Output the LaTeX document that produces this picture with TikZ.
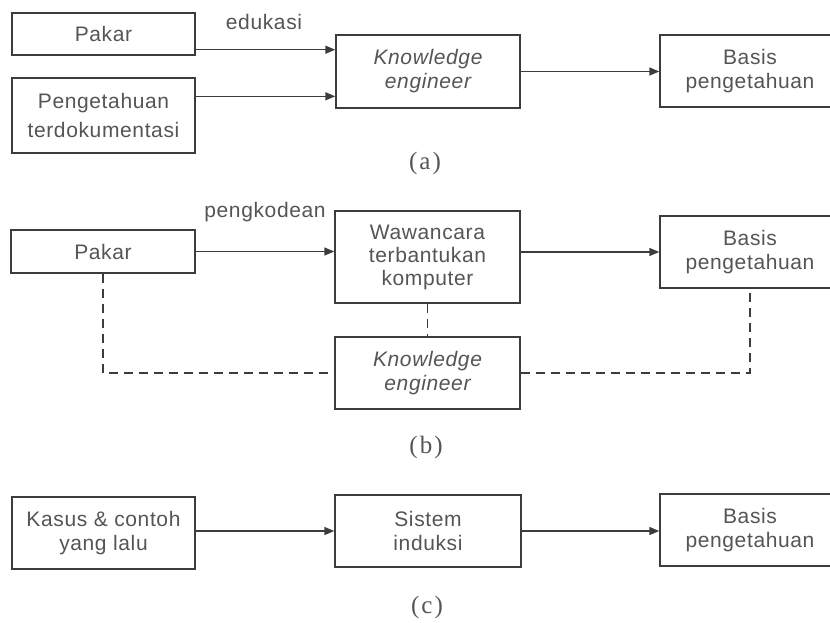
\documentclass[tikz,border=0pt]{standalone}
\usepackage{fontspec}
\usetikzlibrary{arrows.meta,calc}
\newfontfamily\boxfont[LetterSpace=3]{Liberation Sans}
\newfontfamily\capfont{Liberation Serif}
\definecolor{inkline}{HTML}{3C3C3C}
\definecolor{inktext}{HTML}{555555}
\tikzset{
  stagebox/.style={draw=inkline, line width=1.4pt, align=center, inner sep=0pt,
    font=\boxfont\fontsize{21}{24}\selectfont, text=inktext},
  flowarrow/.style={draw=inkline, line width=1.4pt, -{Triangle[length=10pt,width=8pt]}},
  dashlink/.style={draw=inkline, line width=1.2pt, dash pattern=on 9pt off 6pt},
  edgelabel/.style={font=\boxfont\fontsize{21}{24}\selectfont, text=inktext, inner sep=0pt},
  caption/.style={font=\capfont\fontsize{25}{28}\selectfont, text=inktext, inner sep=0pt}
}
\begin{document}
\begin{tikzpicture}[x=1pt,y=-1pt]
\useasboundingbox (0,0) rectangle (830,622);
\fill[white] (0,0) rectangle (830,622);
\clip (0,0) rectangle (830,622);

% ---------- (a) ----------
\node[stagebox, minimum width=183pt, minimum height=42pt] (pakarA) at (103.5,34) {Pakar};
\node[stagebox, minimum width=183pt, minimum height=75pt, font=\boxfont\fontsize{21}{29}\selectfont] (dokA) at (103.5,115.5) {Pengetahuan\\terdokumentasi};
\node[stagebox, minimum width=184pt, minimum height=73pt] (keA) at (428,71.5) {\itshape Knowledge\\\itshape engineer};
\node[stagebox, minimum width=180pt, minimum height=72pt] (basisA) at (750,71) {Basis\\pengetahuan};
\coordinate (pakarOut) at ([yshift=6pt]pakarA.south east);
\coordinate (dokOut) at ([yshift=-19pt]dokA.north east);
\draw[flowarrow] (pakarOut) -- (pakarOut -| keA.west);
\draw[flowarrow] (dokOut) -- (dokOut -| keA.west);
\draw[flowarrow] (keA.east) -- (keA.east -| basisA.west);
\node[edgelabel] (edukasi) at (264,22) {edukasi};
\node[caption] (capA) at (425,163) {(\kern2pt a\kern2pt)};

% ---------- (b) ----------
\node[stagebox, minimum width=184pt, minimum height=43pt] (pakarB) at (103,251.5) {Pakar};
\node[stagebox, minimum width=185pt, minimum height=92pt, font=\boxfont\fontsize{21}{23}\selectfont] (wawB) at (427.5,257) {Wawancara\\terbantukan\\komputer};
\node[stagebox, minimum width=180pt, minimum height=72pt] (basisB) at (750,252) {Basis\\pengetahuan};
\node[stagebox, minimum width=185pt, minimum height=72pt] (keB) at (427.5,373) {\itshape Knowledge\\\itshape engineer};
\draw[flowarrow] (pakarB.east) -- (pakarB.east -| wawB.west);
\draw[flowarrow] (basisB.west -| wawB.east) -- (basisB.west);
\draw[dashlink] (pakarB.south) |- (keB.west);
\draw[dashlink] (keB.east) -| (basisB.south);
\draw[dashlink] (wawB.south) -- (keB.north);
\node[edgelabel] (pengkodean) at (265,212) {pengkodean};
\node[caption] (capB) at (426,447) {(\kern2pt b\kern2pt)};

% ---------- (c) ----------
\node[stagebox, minimum width=183pt, minimum height=72pt] (kasusC) at (103.5,533) {Kasus \& contoh\\yang lalu};
\node[stagebox, minimum width=186pt, minimum height=72pt] (sistemC) at (428,531) {Sistem\\induksi};
\node[stagebox, minimum width=180pt, minimum height=72pt] (basisC) at (750,530) {Basis\\pengetahuan};
\draw[flowarrow] (sistemC.west -| kasusC.east) -- (sistemC.west);
\draw[flowarrow] (sistemC.east) -- (sistemC.east -| basisC.west);
\node[caption] (capC) at (427,607) {(\kern2pt c\kern2pt)};
\end{tikzpicture}
\end{document}
